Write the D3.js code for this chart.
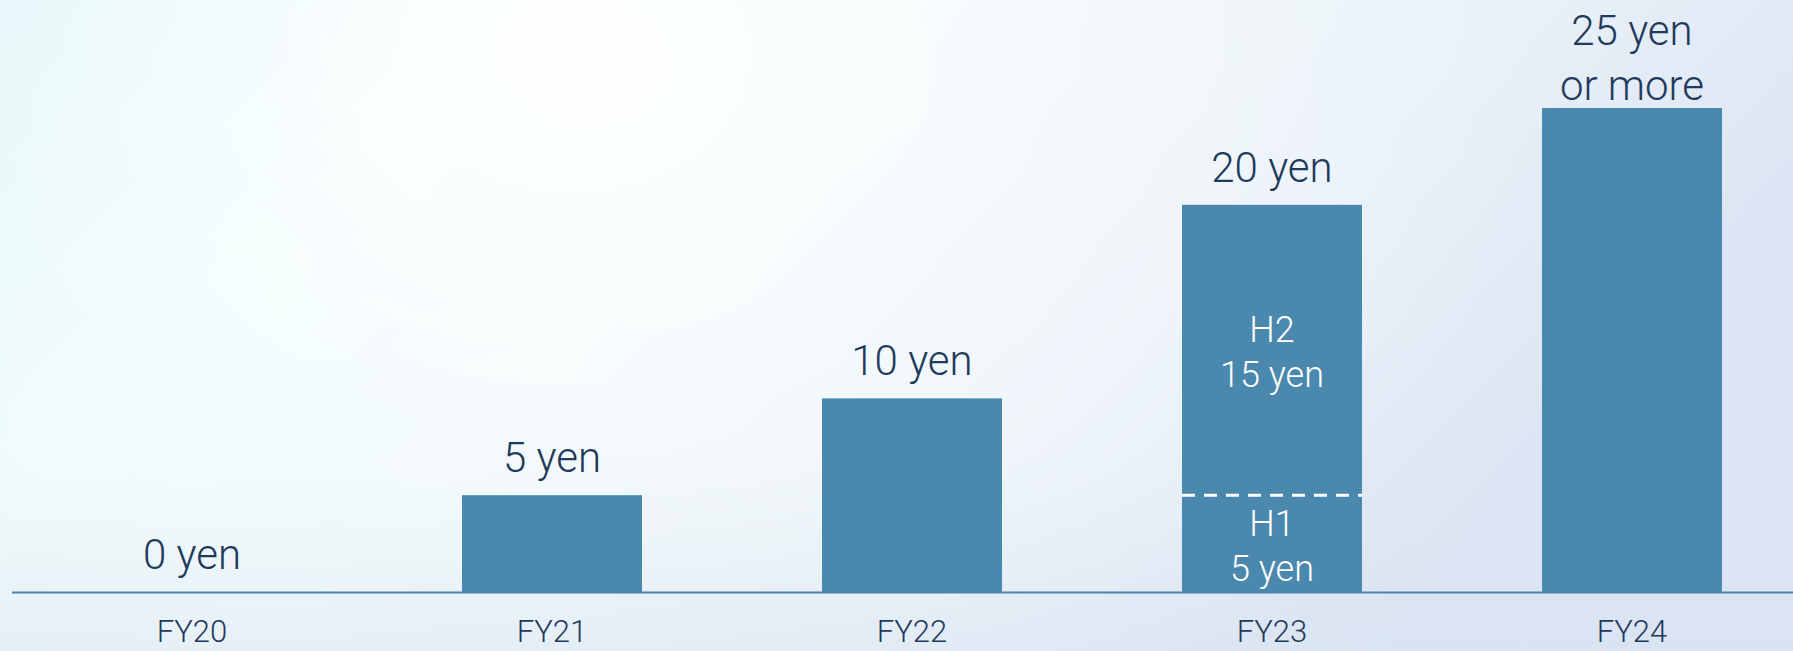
<!DOCTYPE html>
<html>
<head>
<meta charset="utf-8">
<script src="https://cdn.jsdelivr.net/npm/d3@7"></script>
<style>
  html, body { margin: 0; padding: 0; overflow: hidden; }
  svg { display: block; }
</style>
</head>
<body>
<svg id="chart" width="1793" height="651"></svg>
<script>
// Dividend per share by fiscal year
const years = ["FY20", "FY21", "FY22", "FY23", "FY24"];
const dividends = [0, 5, 10, 20, 25];
const valueLabels = [["0 yen"], ["5 yen"], ["10 yen"], ["20 yen"], ["25 yen", "or more"]];

// FY23 split into interim (H1) and year-end (H2)
const halfYear = "FY23";
const halfNames = ["H1", "H2"];
const halfValues = [5, 15];
const halfLabels = ["5 yen", "15 yen"];

const W = 1793, H = 651;
const baseY = 592;
const svg = d3.select("#chart");

// background wash
const defs = svg.append("defs");
const lin = defs.append("linearGradient").attr("id", "bgLin")
  .attr("x1", "0").attr("y1", "0").attr("x2", "1").attr("y2", "0.35");
[[0, "#e0f5f9"], [0.25, "#eefbfc"], [0.45, "#f0f9fb"], [0.75, "#e9f1f8"], [1, "#dbe4f3"]]
  .forEach(([o, c]) => lin.append("stop").attr("offset", o).attr("stop-color", c));
const rad = defs.append("radialGradient").attr("id", "bgRad")
  .attr("cx", 0.32).attr("cy", 0.08).attr("r", 0.55)
  .attr("gradientTransform", "translate(0.32,0.08) scale(1,2.2) translate(-0.32,-0.08)");
[[0, "#ffffff", 0.9], [0.5, "#ffffff", 0.35], [1, "#ffffff", 0]]
  .forEach(([o, c, a]) => rad.append("stop").attr("offset", o).attr("stop-color", c).attr("stop-opacity", a));
const vert = defs.append("linearGradient").attr("id", "bgVert")
  .attr("x1", "0").attr("y1", "0").attr("x2", "0").attr("y2", "1");
[[0, "#ffffff", 0], [0.7, "#dfe9f2", 0], [1, "#d7e3f0", 0.45]]
  .forEach(([o, c, a]) => vert.append("stop").attr("offset", o).attr("stop-color", c).attr("stop-opacity", a));

svg.append("rect").attr("width", W).attr("height", H).attr("fill", "url(#bgLin)");
svg.append("rect").attr("width", W).attr("height", H).attr("fill", "url(#bgRad)");
svg.append("rect").attr("width", W).attr("height", H).attr("fill", "url(#bgVert)");

const x = d3.scaleBand().domain(years).range([12, 1812]).paddingInner(0.5).paddingOuter(0.25);
const y = d3.scaleLinear().domain([0, 25]).range([baseY, 108]);

const barColor = "#4a88ae";
const textColor = "#1f3a5d";
const font = "Roboto, 'Liberation Sans', sans-serif";

const data = years.map((yr, i) => ({ yr, v: dividends[i], labels: valueLabels[i] }));

// bars
svg.append("g").selectAll("rect").data(data.filter(d => d.v > 0)).join("rect")
  .attr("x", d => x(d.yr))
  .attr("y", d => y(d.v))
  .attr("width", x.bandwidth())
  .attr("height", d => y(0) - y(d.v))
  .attr("fill", barColor);

// baseline
svg.append("line")
  .attr("x1", 12).attr("x2", W)
  .attr("y1", y(0) + 0.5).attr("y2", y(0) + 0.5)
  .attr("stroke", "#4d83ac").attr("stroke-width", 2);

// value labels above bars
const lbl = svg.append("g").selectAll("text").data(data).join("text")
  .attr("x", d => x(d.yr) + x.bandwidth() / 2)
  .attr("text-anchor", "middle")
  .attr("font-family", font).attr("font-weight", 300)
  .attr("font-size", 42).attr("fill", textColor);
lbl.each(function (d) {
  const t = d3.select(this);
  const n = d.labels.length;
  if (n === 1) {
    t.attr("y", y(d.v) - 23).text(d.labels[0]);
  } else {
    d.labels.forEach((s, j) => {
      t.append("tspan").attr("x", x(d.yr) + x.bandwidth() / 2)
        .attr("y", y(d.v) - 8 - (n - 1 - j) * 55).text(s);
    });
  }
});

// half-year split inside FY23
const hx = x(halfYear), hw = x.bandwidth();
const split = y(halfValues[0]);
svg.append("line")
  .attr("x1", hx).attr("x2", hx + hw)
  .attr("y1", split).attr("y2", split)
  .attr("stroke", "#ffffff").attr("stroke-width", 3)
  .attr("stroke-dasharray", "13,9");

const segs = [
  { name: halfNames[0], lab: halfLabels[0], top: y(halfValues[0]), bot: y(0) },
  { name: halfNames[1], lab: halfLabels[1], top: y(halfValues[0] + halfValues[1]), bot: y(halfValues[0]) }
];
const inner = svg.append("g").selectAll("text").data(segs).join("text")
  .attr("text-anchor", "middle")
  .attr("font-family", font).attr("font-weight", 300)
  .attr("font-size", 36).attr("fill", "#ffffff");
inner.each(function (d) {
  const t = d3.select(this);
  const mid = (d.top + d.bot) / 2;
  t.append("tspan").attr("x", hx + hw / 2).attr("y", mid - 8).text(d.name);
  t.append("tspan").attr("x", hx + hw / 2).attr("y", mid + 37).text(d.lab);
});

// category axis labels
svg.append("g").selectAll("text").data(years).join("text")
  .attr("x", d => x(d) + x.bandwidth() / 2)
  .attr("y", 642)
  .attr("text-anchor", "middle")
  .attr("font-family", font).attr("font-weight", 300)
  .attr("font-size", 31).attr("fill", textColor)
  .text(d => d);
</script>
</body>
</html>
